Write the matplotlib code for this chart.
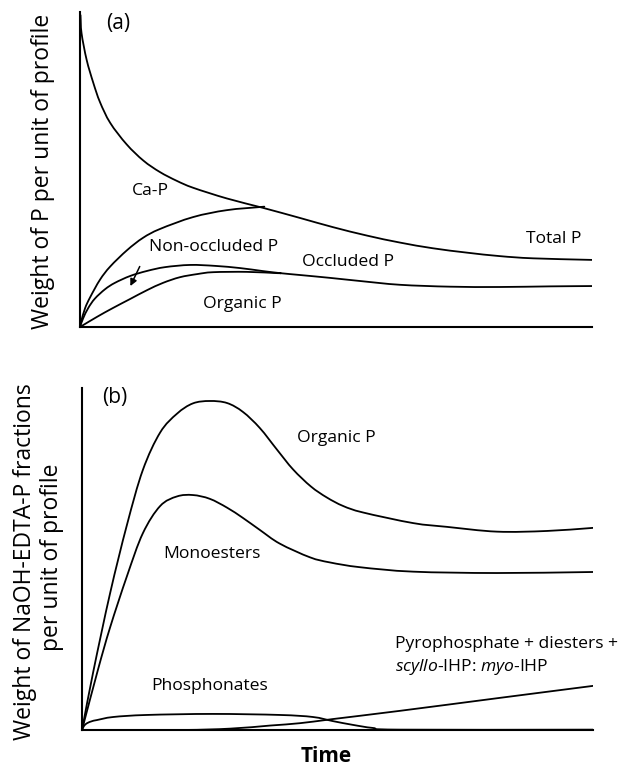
import numpy as np
import matplotlib.pyplot as plt
from matplotlib.path import Path
from matplotlib.patches import PathPatch

plt.rcParams['font.family'] = ['Open Sans', 'DejaVu Sans']
plt.rcParams['mathtext.fontset'] = 'custom'
plt.rcParams['mathtext.rm'] = 'Open Sans'
plt.rcParams['mathtext.it'] = 'Open Sans:italic'

# ---- panel (a): time vs weight of P (arbitrary units 0-10)
total_t = [0.01, 0.03, 0.13, 0.26, 0.39, 0.59, 0.91, 1.24, 1.56, 1.89, 2.21, 2.87,
           3.58, 4.30, 4.94, 5.61, 6.25, 6.89, 7.56, 8.20, 8.85, 10.0]
total_p = [9.90, 9.33, 8.48, 7.75, 7.14, 6.48, 5.80, 5.28, 4.92, 4.64, 4.42, 4.08,
           3.78, 3.46, 3.17, 2.90, 2.68, 2.50, 2.36, 2.25, 2.18, 2.13]

cap_t = [0, 0.02, 0.10, 0.20, 0.39, 0.59, 0.92, 1.23, 1.56, 2.21, 2.87, 3.60]
cap_p = [0, 0.16, 0.60, 0.95, 1.50, 1.92, 2.44, 2.83, 3.11, 3.49, 3.71, 3.82]

occl_t = [0, 0.06, 0.16, 0.29, 0.49, 0.68, 0.98, 1.31, 1.66, 2.15, 2.64, 3.13, 3.55,
          3.91, 4.30, 4.88, 5.47, 6.25, 7.23, 8.20, 9.18, 10.0]
occl_p = [0, 0.27, 0.60, 0.90, 1.20, 1.40, 1.62, 1.78, 1.90, 1.97, 1.94, 1.87, 1.78,
          1.71, 1.65, 1.56, 1.46, 1.34, 1.28, 1.27, 1.29, 1.30]

orga_t = [0, 0.33, 0.64, 0.98, 1.31, 1.62, 1.95, 2.29, 2.60, 3.26, 3.85, 3.91]
orga_p = [0, 0.32, 0.60, 0.89, 1.17, 1.40, 1.58, 1.68, 1.74, 1.75, 1.71, 1.71]

# ---- panel (b): NaOH-EDTA fractions
orgb_t = [0, 0.22, 0.55, 0.88, 1.19, 1.53, 1.86, 2.17, 2.50, 2.84, 3.15, 3.48, 3.82,
          4.13, 4.48, 4.79, 5.11, 5.50, 6.48, 7.14, 8.12, 9.10, 10.0]
orgb_p = [0, 1.70, 4.00, 6.00, 7.60, 8.70, 9.25, 9.55, 9.62, 9.56, 9.30, 8.83, 8.19,
          7.62, 7.12, 6.80, 6.55, 6.36, 6.05, 5.94, 5.80, 5.82, 5.91]

mono_t = [0, 0.31, 0.55, 0.88, 1.19, 1.53, 1.86, 2.17, 2.50, 2.84, 3.15, 3.48, 3.87,
          4.46, 4.85, 5.44, 6.48, 8.12, 10.0]
mono_p = [0, 1.75, 3.00, 4.50, 5.75, 6.55, 6.83, 6.87, 6.76, 6.50, 6.20, 5.85, 5.45,
          5.05, 4.90, 4.76, 4.63, 4.59, 4.62]

phon_t = [0, 0.04, 0.10, 0.20, 0.29, 0.61, 1.27, 2.56, 3.87, 4.52, 4.91, 5.30, 5.69,
          6.22, 10.0]
phon_p = [0, 0.12, 0.20, 0.26, 0.29, 0.38, 0.44, 0.47, 0.44, 0.38, 0.26, 0.15, 0.06,
          0.01, 0.01]

pyro_t = [0, 1.92, 2.90, 3.68, 4.27, 4.91, 6.22, 8.18, 10.0]
pyro_p = [0, 0.0, 0.04, 0.13, 0.20, 0.32, 0.56, 0.94, 1.29]

W, H = 624, 768
fig = plt.figure(figsize=(W / 100, H / 100), dpi=100)


def px_axes(x0, y0, x1, y1):
    return fig.add_axes([x0 / W, 1 - y1 / H, (x1 - x0) / W, (y1 - y0) / H])


def ftext(x, y, s, **kw):
    kw.setdefault('ha', 'center')
    kw.setdefault('va', 'center')
    kw.setdefault('fontsize', 12.6)
    fig.text(x / W, 1 - y / H, s, **kw)


def style(ax):
    ax.set_xlim(0, 10)
    ax.set_ylim(0, 10)
    for s in ['top', 'right']:
        ax.spines[s].set_visible(False)
    for s in ['left', 'bottom']:
        ax.spines[s].set_linewidth(1.5)
    ax.set_xticks([])
    ax.set_yticks([])
    ax.patch.set_alpha(0)


def smooth_curve(ax, t, p, lw=1.3):
    # draw a smooth curve through the read points (Catmull-Rom as cubic Bezier)
    pts = np.column_stack([t, p])
    ext = np.vstack([2 * pts[0] - pts[1], pts, 2 * pts[-1] - pts[-2]])
    verts = [pts[0]]
    codes = [Path.MOVETO]
    for i in range(1, len(ext) - 2):
        p0, p1, p2, p3 = ext[i - 1], ext[i], ext[i + 1], ext[i + 2]
        verts += [p1 + (p2 - p0) / 6, p2 - (p3 - p1) / 6, p2]
        codes += [Path.CURVE4] * 3
    ax.add_patch(PathPatch(Path(verts, codes), fill=False, edgecolor='black',
                           lw=lw, capstyle='round', joinstyle='round'))


ax1 = px_axes(80, 12, 592, 327)
style(ax1)
for t, p in [(total_t, total_p), (cap_t, cap_p), (occl_t, occl_p), (orga_t, orga_p)]:
    smooth_curve(ax1, t, p)
ax1.annotate('', xy=(0.96, 1.22), xytext=(1.19, 2.0),
             arrowprops=dict(arrowstyle='-|>', color='black', lw=1.1,
                             mutation_scale=10))

ax2 = px_axes(82, 388, 593, 730)
style(ax2)
for t, p in [(orgb_t, orgb_p), (mono_t, mono_p), (phon_t, phon_p), (pyro_t, pyro_p)]:
    smooth_curve(ax2, t, p)

# annotations
ftext(118, 24, '(a)', fontsize=15)
ftext(150, 191, 'Ca-P')
ftext(214, 247, 'Non-occluded P')
ftext(348, 262, 'Occluded P')
ftext(554, 239, 'Total P')
ftext(242, 304, 'Organic P')
ftext(43, 171, 'Weight of P per unit of profile', fontsize=16.5, rotation=90)

ftext(115, 398, '(b)', fontsize=15)
ftext(336, 438, 'Organic P')
ftext(212, 554, 'Monoesters')
ftext(210, 686, 'Phosphonates')
ftext(395, 644, 'Pyrophosphate + diesters +', ha='left')
ftext(395, 667, r'$\it{scyllo}$-IHP: $\it{myo}$-IHP', ha='left')
ftext(25, 562, 'Weight of NaOH-EDTA-P fractions', fontsize=16.5, rotation=90)
ftext(52, 557, 'per unit of profile', fontsize=16.5, rotation=90)
ftext(326, 757, 'Time', fontsize=15, fontweight='bold')

fig.savefig('out.png', dpi=100)
